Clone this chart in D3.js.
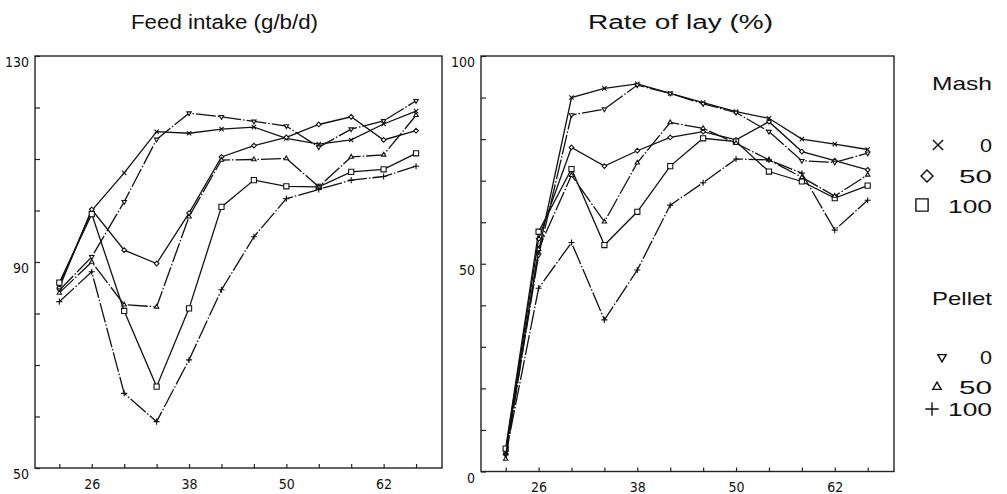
<!DOCTYPE html>
<html>
<head>
<meta charset="utf-8">
<script src="https://cdn.jsdelivr.net/npm/d3@7"></script>
<style>
  body { margin: 0; background: #fff; }
  svg { display: block; }
</style>
</head>
<body>
<svg id="chart" width="1007" height="494"></svg>
<script>
// Age of hens (weeks)
const weeks = [22, 26, 30, 34, 38, 42, 46, 50, 54, 58, 62, 66];

// Feed intake (g/b/d)
const feedMash0 = [85.5, 100, 107.3, 115.3, 115, 115.8, 116.2, 114, 112.9, 113.7, 116.8, 119.3];
const feedMash50 = [85, 100.2, 92.3, 89.7, 99.5, 110.4, 112.6, 114.2, 116.7, 118.2, 113.7, 115.5];
const feedMash100 = [86, 99.3, 80.5, 65.8, 81, 100.7, 105.9, 104.7, 104.6, 107.5, 108, 111.1];
const feedPellet0 = [84.5, 91, 101.7, 113.8, 118.9, 118.2, 117.3, 116.4, 112.3, 115.8, 117.4, 121.3];
const feedPellet50 = [84, 90, 81.7, 81.3, 98.8, 109.8, 109.9, 110.1, 104.6, 110.4, 110.8, 118.5];
const feedPellet100 = [82.3, 88.1, 64.5, 59, 71, 84.6, 94.9, 102.3, 104.1, 105.9, 106.6, 108.6];

// Rate of lay (%)
const layMash0 = [5, 53, 90, 92.2, 93.3, 91, 88.8, 86.6, 85, 80, 78.8, 77.5];
const layMash50 = [5, 56, 78, 73.5, 77.2, 80.4, 81.8, 79.8, 84.2, 77, 74.8, 72.6];
const layMash100 = [5.5, 57.7, 72.8, 54.5, 62.5, 73.5, 80.2, 79.4, 72.2, 69.8, 65.8, 68.8];
const layPellet0 = [4, 52, 85.8, 87.2, 93, 91, 88.5, 86.4, 81.8, 74.8, 74.4, 76.6];
const layPellet50 = [3, 53.5, 71.3, 60.1, 74.3, 84, 82.6, 79, 75, 70.8, 66.3, 71.4];
const layPellet100 = [4, 44.1, 55.1, 36.5, 48.5, 64.1, 69.5, 75.2, 75, 71.8, 58.1, 65.3];

// Axis ticks and labels
const xTicks = [22, 26, 30, 34, 38, 42, 46, 50, 54, 58, 62, 66];
const xLabels = [26, 38, 50, 62];
const feedTicks = [50, 60, 70, 80, 90, 100, 110, 120, 130];
const feedLabels = [50, 90, 130];
const layTicks = [0, 10, 20, 30, 40, 50, 60, 70, 80, 90, 100];
const layLabels = [0, 50, 100];

// Legend
const mashLevels = ["0", "50", "100"];
const pelletLevels = ["0", "50", "100"];

let svg = d3.select("#chart");

function makeSeries(m0, m50, m100, p0, p50, p100) {
    return [
        { values: m0, symbol: d3.symbolX, size: 14, dashed: false },
        { values: m50, symbol: d3.symbolDiamond2, size: 14, dashed: false },
        { values: m100, symbol: d3.symbolSquare2, size: 34, dashed: false },
        { values: p0, symbol: d3.symbolTriangle2, size: 14, dashed: true, flip: true },
        { values: p50, symbol: d3.symbolTriangle2, size: 14, dashed: true },
        { values: p100, symbol: d3.symbolPlus, size: 14, dashed: true }
    ];
}

function drawPanel(opts) {
    let g = svg.append("g");
    let x = d3.scaleLinear().domain([19, 69.2]).range([opts.left, opts.right]);
    let y = d3.scaleLinear().domain(opts.yDomain).range([opts.bottom, opts.top]);

    // frame
    g.append("rect")
        .attr("x", opts.left)
        .attr("y", opts.top)
        .attr("width", opts.right - opts.left)
        .attr("height", opts.bottom - opts.top)
        .attr("fill", "none")
        .attr("stroke", "#222")
        .attr("stroke-width", 1.4);

    // x axis, ticks point inward
    let xa = g.append("g")
        .attr("transform", `translate(0,${opts.bottom})`)
        .call(d3.axisBottom(x)
            .tickValues(xTicks)
            .tickSize(-4)
            .tickPadding(11)
            .tickFormat(d => xLabels.includes(d) ? d : ""));
    xa.select(".domain").remove();
    xa.selectAll("line").attr("stroke", "#222").attr("stroke-width", 1.2);
    xa.selectAll("text")
        .attr("font-family", "'Liberation Sans Narrow', 'DejaVu Sans Condensed', sans-serif")
        .attr("font-size", 14)
        .attr("fill", "#111");

    // y axis, ticks point inward
    let ya = g.append("g")
        .attr("transform", `translate(${opts.left},0)`)
        .call(d3.axisLeft(y)
            .tickValues(opts.yTicks)
            .tickSize(-5)
            .tickPadding(6)
            .tickFormat(d => opts.yLabels.includes(d) ? d : ""));
    ya.select(".domain").remove();
    ya.selectAll("line").attr("stroke", "#222").attr("stroke-width", 1.2);
    ya.selectAll("text")
        .attr("dy", "0.75em")
        .attr("font-family", "'Liberation Sans Narrow', 'DejaVu Sans Condensed', sans-serif")
        .attr("font-size", 14)
        .attr("fill", "#111");

    // title
    g.append("text")
        .attr("x", opts.titleX)
        .attr("y", 29)
        .attr("font-family", "'Liberation Sans', Arial, sans-serif")
        .attr("font-size", 20)
        .attr("textLength", opts.titleLen)
        .attr("lengthAdjust", "spacingAndGlyphs")
        .attr("fill", "#111")
        .text(opts.title);

    let line = d3.line()
        .x((d, i) => x(weeks[i]))
        .y(d => y(d));

    opts.series.forEach(s => {
        g.append("path")
            .datum(s.values)
            .attr("d", line)
            .attr("fill", "none")
            .attr("stroke", "#111")
            .attr("stroke-width", 1.3)
            .attr("stroke-dasharray", s.dashed ? "20,2,1.5,2" : null);

        g.append("g")
            .selectAll("path")
            .data(s.values)
            .join("path")
            .attr("transform", (d, i) => `translate(${x(weeks[i])},${y(d)})` + (s.flip ? " rotate(180)" : ""))
            .attr("d", d3.symbol(s.symbol, s.size))
            .attr("fill", "#fff")
            .attr("stroke", "#111")
            .attr("stroke-width", 1.1);
    });
}

drawPanel({
    left: 35, right: 442, top: 56, bottom: 468,
    yDomain: [50, 130], yTicks: feedTicks, yLabels: feedLabels,
    title: "Feed intake (g/b/d)", titleX: 131, titleLen: 187,
    series: makeSeries(feedMash0, feedMash50, feedMash100, feedPellet0, feedPellet50, feedPellet100)
});

drawPanel({
    left: 481, right: 894, top: 56, bottom: 471.5,
    yDomain: [0, 100], yTicks: layTicks, yLabels: layLabels,
    title: "Rate of lay (%)", titleX: 588, titleLen: 185,
    series: makeSeries(layMash0, layMash50, layMash100, layPellet0, layPellet50, layPellet100)
});

// Legend
const legendWidths = { "0": 12, "50": 33, "100": 44 };

function legendBlock(title, titleY, levels, symbols, rowY) {
    let lg = svg.append("g")
        .attr("font-family", "'Liberation Sans', Arial, sans-serif")
        .attr("fill", "#111");

    lg.append("text")
        .attr("x", 992)
        .attr("y", titleY)
        .attr("text-anchor", "end")
        .attr("font-size", 19)
        .attr("textLength", 60)
        .attr("lengthAdjust", "spacingAndGlyphs")
        .text(title);

    levels.forEach((lv, i) => {
        lg.append("text")
            .attr("x", 992)
            .attr("y", rowY[i])
            .attr("text-anchor", "end")
            .attr("font-size", 18)
            .attr("textLength", legendWidths[lv])
            .attr("lengthAdjust", "spacingAndGlyphs")
            .text(lv);

        let s = symbols[i];
        lg.append("path")
            .attr("transform", `translate(${s.x},${s.y})` + (s.flip ? " rotate(180)" : ""))
            .attr("d", d3.symbol(s.type, s.size))
            .attr("fill", "none")
            .attr("stroke", "#111")
            .attr("stroke-width", 1.4);
    });
}

legendBlock("Mash", 90, mashLevels, [
    { type: d3.symbolX, size: 70, x: 938, y: 145 },
    { type: d3.symbolDiamond2, size: 90, x: 927, y: 176 },
    { type: d3.symbolSquare2, size: 190, x: 922, y: 205 }
], [152, 183, 213]);

legendBlock("Pellet", 305, pelletLevels, [
    { type: d3.symbolTriangle2, size: 50, x: 942, y: 357, flip: true },
    { type: d3.symbolTriangle2, size: 50, x: 937, y: 387 },
    { type: d3.symbolPlus, size: 60, x: 932, y: 409 }
], [364, 394, 416]);
</script>
</body>
</html>
